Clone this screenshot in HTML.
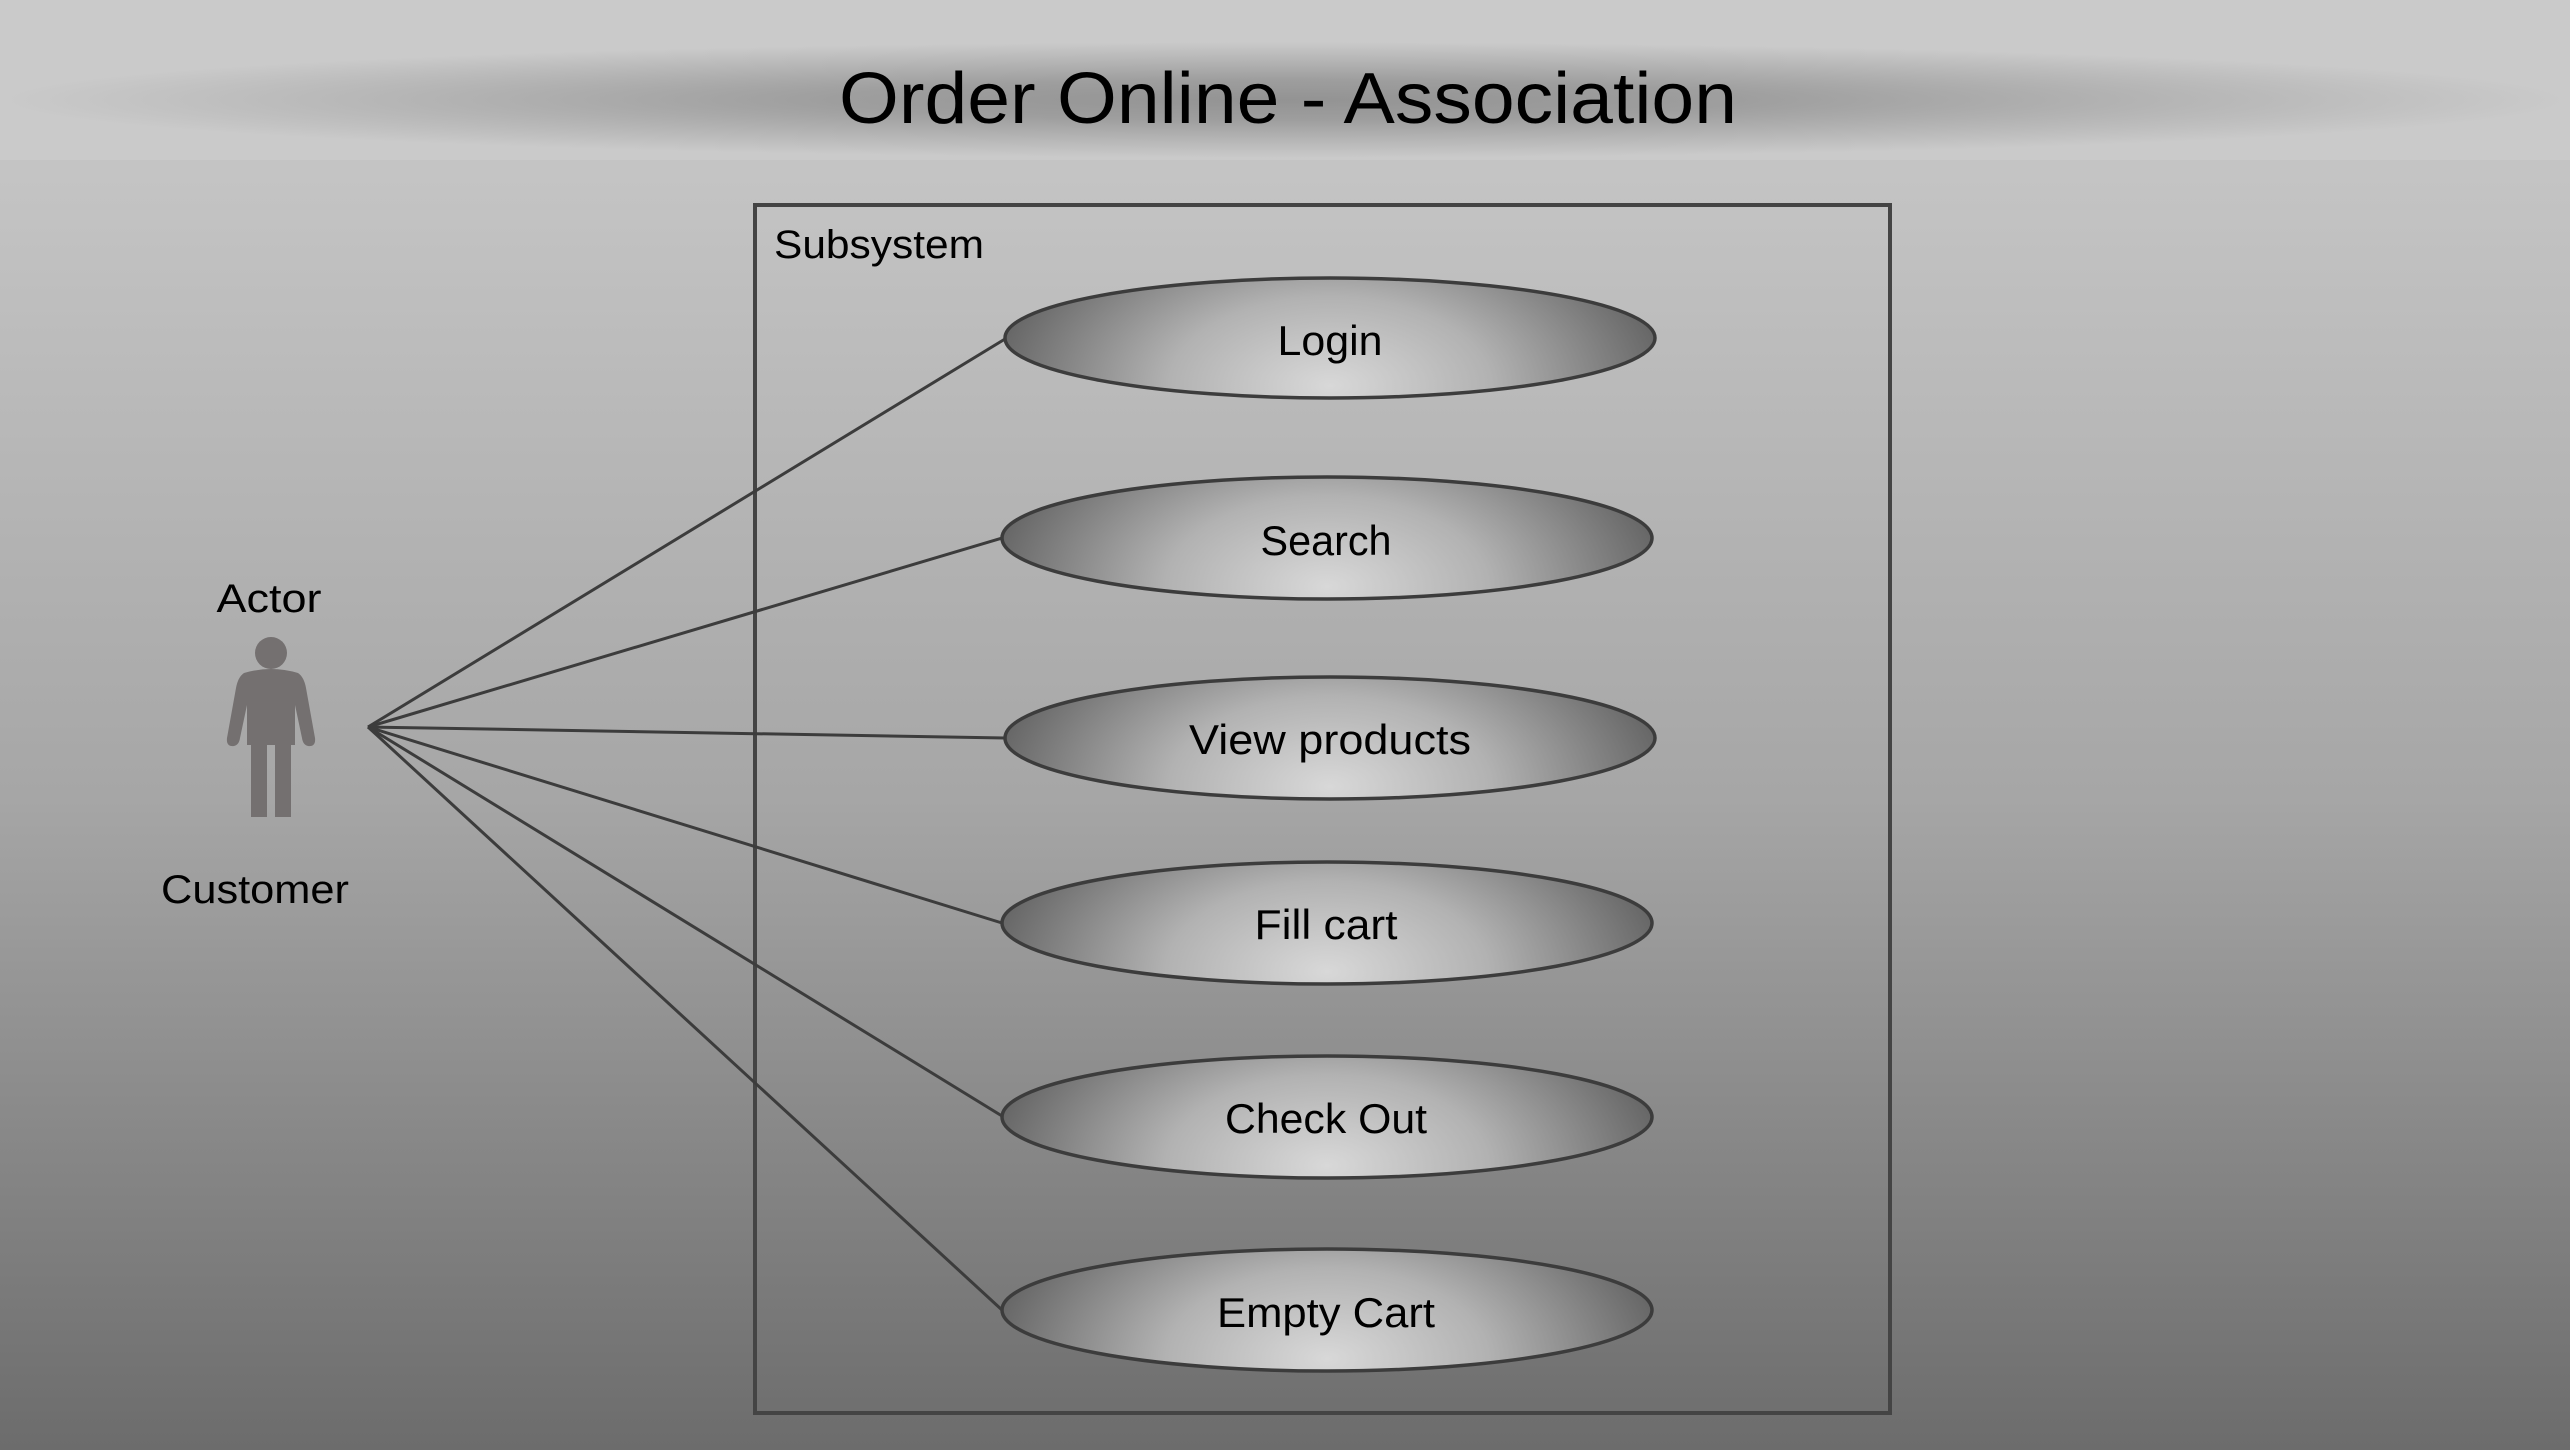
<!DOCTYPE html>
<html><head><meta charset="utf-8"><style>
html,body{margin:0;padding:0;width:2570px;height:1450px;overflow:hidden}
svg{display:block}
text{font-family:"Liberation Sans",sans-serif;fill:#000}
</style></head><body>
<svg width="2570" height="1450" viewBox="0 0 2570 1450" xmlns="http://www.w3.org/2000/svg">
<defs>
<linearGradient id="bg" x1="0" y1="0" x2="0" y2="1">
<stop offset="0" stop-color="#cbcbcb"/><stop offset="0.15" stop-color="#c2c2c2"/><stop offset="0.55" stop-color="#a6a6a6"/><stop offset="1" stop-color="#6c6c6c"/>
</linearGradient>
<radialGradient id="band" cx="0.5" cy="0.5" r="0.5">
<stop offset="0" stop-color="#939393"/><stop offset="0.35" stop-color="#9e9e9e"/><stop offset="0.7" stop-color="#b6b6b6"/><stop offset="1" stop-color="#cacaca"/>
</radialGradient>
<radialGradient id="el" cx="0.5" cy="0.9" r="0.55" gradientTransform="translate(0.5 0.9) scale(1 3) translate(-0.5 -0.9)">
<stop offset="0" stop-color="#d8d8d8"/><stop offset="0.45" stop-color="#b2b2b2"/><stop offset="1" stop-color="#5e5e5e"/>
</radialGradient>
</defs>
<rect width="2570" height="1450" fill="url(#bg)"/>
<rect x="0" y="0" width="2570" height="160" fill="#cacaca"/>
<rect x="0" y="42" width="2570" height="116" fill="url(#band)"/>
<text x="1288" y="123" font-size="72" text-anchor="middle" textLength="898" lengthAdjust="spacingAndGlyphs">Order Online - Association</text>

<rect x="755" y="205" width="1135" height="1208" fill="none" stroke="#444" stroke-width="4"/>
<text x="774" y="258" font-size="40" textLength="210" lengthAdjust="spacingAndGlyphs">Subsystem</text>

<g stroke="#3c3c3c" stroke-width="3">
<line x1="368" y1="727" x2="1005" y2="339"/>
<line x1="368" y1="727" x2="1002" y2="538"/>
<line x1="368" y1="727" x2="1005" y2="738"/>
<line x1="368" y1="727" x2="1002" y2="923"/>
<line x1="368" y1="727" x2="1002" y2="1116"/>
<line x1="368" y1="727" x2="1002" y2="1310"/>
</g>

<g stroke="#3c3c3c" stroke-width="3.5" fill="url(#el)">
<ellipse cx="1330" cy="338" rx="325" ry="60"/>
<ellipse cx="1327" cy="538" rx="325" ry="61"/>
<ellipse cx="1330" cy="738" rx="325" ry="61"/>
<ellipse cx="1327" cy="923" rx="325" ry="61"/>
<ellipse cx="1327" cy="1117" rx="325" ry="61"/>
<ellipse cx="1327" cy="1310" rx="325" ry="61"/>
</g>
<g font-size="42" text-anchor="middle">
<text x="1330" y="355" textLength="105" lengthAdjust="spacingAndGlyphs">Login</text>
<text x="1326" y="555" textLength="131" lengthAdjust="spacingAndGlyphs">Search</text>
<text x="1330" y="754" textLength="282" lengthAdjust="spacingAndGlyphs">View products</text>
<text x="1326" y="939" textLength="143" lengthAdjust="spacingAndGlyphs">Fill cart</text>
<text x="1326" y="1133" textLength="202" lengthAdjust="spacingAndGlyphs">Check Out</text>
<text x="1326" y="1327" textLength="218" lengthAdjust="spacingAndGlyphs">Empty Cart</text>
</g>

<g fill="#747070">
<circle cx="271" cy="653" r="16"/>
<path d="M244 673 Q271 665 298 673 Q304 677 306 688 L315 738 Q316 747 308 746 Q303 745 302 738 L295 705 L295 745 L291 745 L291 817 L275 817 L275 745 L267 745 L267 817 L251 817 L251 745 L247 745 L247 705 L240 738 Q239 745 234 746 Q226 747 227 738 L236 688 Q238 677 244 673 Z"/>
</g>
<text x="269" y="612" font-size="40" text-anchor="middle" textLength="105" lengthAdjust="spacingAndGlyphs">Actor</text>
<text x="255" y="903" font-size="40" text-anchor="middle" textLength="188" lengthAdjust="spacingAndGlyphs">Customer</text>
</svg>
</body></html>
